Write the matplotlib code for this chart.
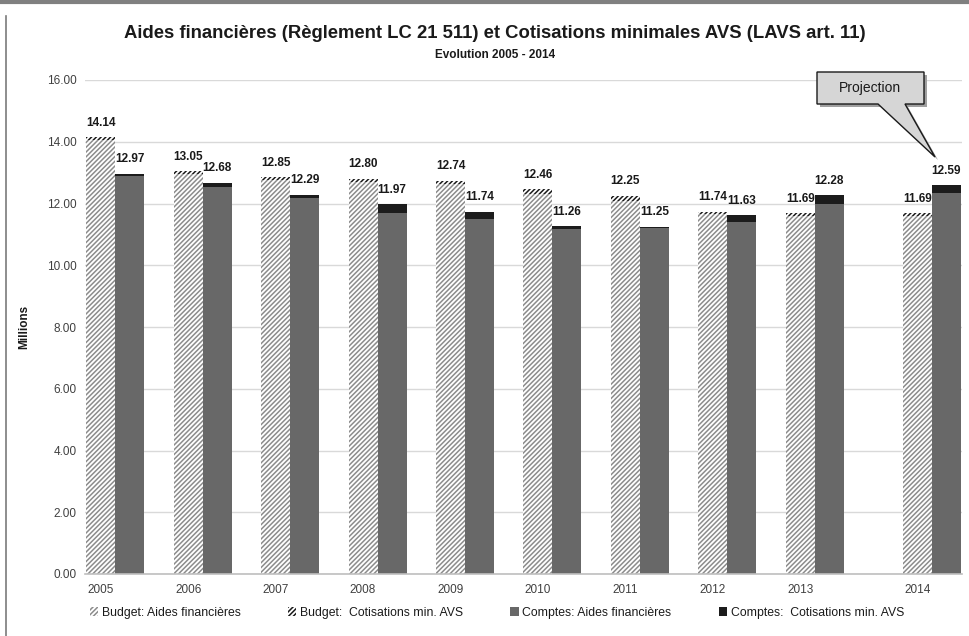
import numpy as np
import matplotlib
matplotlib.use("Agg")
import matplotlib.pyplot as plt
from matplotlib.patches import Polygon, Patch
from matplotlib.lines import Line2D

# ---- data ----
years = ["2005", "2006", "2007", "2008", "2009", "2010", "2011", "2012", "2013", "2014"]
budget_total = [14.14, 13.05, 12.85, 12.80, 12.74, 12.46, 12.25, 11.74, 11.69, 11.69]
budget_cotis = [0.07, 0.08, 0.10, 0.10, 0.12, 0.14, 0.16, 0.08, 0.08, 0.08]
comptes_total = [12.97, 12.68, 12.29, 11.97, 11.74, 11.26, 11.25, 11.63, 12.28, 12.59]
comptes_cotis = [0.09, 0.15, 0.10, 0.29, 0.23, 0.10, 0.03, 0.22, 0.31, 0.24]
yticks = [0, 2, 4, 6, 8, 10, 12, 14, 16]
legend_labels = ["Budget: Aides financières", "Budget:  Cotisations min. AVS",
                 "Comptes: Aides financières", "Comptes:  Cotisations min. AVS"]
title = "Aides financières (Règlement LC 21 511) et Cotisations minimales AVS (LAVS art. 11)"
subtitle = "Evolution 2005 - 2014"
callout_text = "Projection"

budget_total = np.array(budget_total)
budget_cotis = np.array(budget_cotis)
comptes_total = np.array(comptes_total)
comptes_cotis = np.array(comptes_cotis)
budget_aides = budget_total - budget_cotis
comptes_aides = comptes_total - comptes_cotis

plt.rcParams['font.family'] = ['Liberation Sans', 'DejaVu Sans']
plt.rcParams['hatch.linewidth'] = 1.1

W, H = 969, 636
fig = plt.figure(figsize=(W / 100, H / 100), dpi=100)
ax = fig.add_axes([85 / W, 1 - 574 / H, (962 - 85) / W, (574 - 80) / H])

x = np.arange(len(years), dtype=float)
x[-1] += 0.34  # projection year set apart
bw = 0.332

ax.bar(x, budget_aides, bw, align='center', color='white', edgecolor='#8c8c8c',
       hatch='///////', linewidth=0, zorder=2)
ax.bar(x, budget_cotis, bw, bottom=budget_aides, color='white', edgecolor='#1a1a1a',
       hatch='///////', linewidth=0, zorder=2)
ax.bar(x + bw, comptes_aides, bw, color='#686868', linewidth=0, zorder=2)
ax.bar(x + bw, comptes_cotis, bw, bottom=comptes_aides, color='#1c1c1c', linewidth=0, zorder=2)

for xi, v in zip(x, budget_total):
    ax.annotate(f"{v:.2f}", (xi, v), xytext=(0, 6), textcoords='offset points',
                ha='center', va='bottom', fontsize=8.5, fontweight='bold', color='#1a1a1a', zorder=5)
for xi, v in zip(x + bw, comptes_total):
    ax.annotate(f"{v:.2f}", (xi, v), xytext=(0, 6), textcoords='offset points',
                ha='center', va='bottom', fontsize=8.5, fontweight='bold', color='#1a1a1a', zorder=5)

ax.set_xlim(-0.18, x[-1] + 0.51)
ax.set_ylim(0, 16)
ax.set_yticks(yticks)
ax.set_yticklabels([f"{t:.2f}" for t in yticks])
ax.set_xticks(x)
ax.set_xticklabels(years)
ax.tick_params(axis='both', length=0, labelsize=8.5, colors='#404040')
ax.tick_params(axis='y', pad=6)
ax.tick_params(axis='x', pad=7)
ax.yaxis.grid(True, color='#d9d9d9', linewidth=1, zorder=0)
ax.set_axisbelow(True)
for s in ['top', 'right', 'left']:
    ax.spines[s].set_visible(False)
ax.spines['bottom'].set_color('#bfbfbf')
ax.spines['bottom'].set_linewidth(1.2)
ax.set_ylabel("Millions", fontsize=8.5, fontweight='bold', labelpad=12, color='#1a1a1a')

fig.text(495 / W, 1 - 33 / H, title, ha='center', va='center', fontsize=13.3,
         fontweight='bold', color='#1a1a1a')
fig.text(495 / W, 1 - 55 / H, subtitle, ha='center', va='center', fontsize=8.5,
         fontweight='bold', color='#1a1a1a')

# legend
handles = [Patch(facecolor='white', edgecolor='#8c8c8c', hatch='///////', linewidth=0),
           Patch(facecolor='white', edgecolor='#1a1a1a', hatch='///////', linewidth=0),
           Patch(facecolor='#686868', linewidth=0),
           Patch(facecolor='#1c1c1c', linewidth=0)]
fig.legend(handles, legend_labels, loc='center', bbox_to_anchor=(497 / W, 1 - 613 / H),
           ncol=4, frameon=False, fontsize=8.8, handlelength=0.7, handleheight=0.7,
           handletextpad=0.3, columnspacing=3.85, labelcolor='#1a1a1a')

# callout "Projection"
def px(a, b):
    return (a / W, 1 - b / H)

shape = [(817, 72), (924, 72), (924, 104), (905, 104), (935, 157), (878, 104), (817, 104)]
shadow = Polygon([px(a + 3, b + 3) for a, b in shape], closed=True, transform=fig.transFigure,
                 facecolor='#a0a0a0', edgecolor='none', zorder=9)
fig.add_artist(shadow)
call = Polygon([px(a, b) for a, b in shape], closed=True, transform=fig.transFigure,
               facecolor='#d6d6d6', edgecolor='#1a1a1a', linewidth=1, zorder=10)
fig.add_artist(call)
fig.text(870 / W, 1 - 88 / H, callout_text, ha='center', va='center', fontsize=10,
         color='#1a1a1a', zorder=11)

# chart frame
fig.add_artist(Line2D([0, 1], [1 - 1.5 / H, 1 - 1.5 / H], transform=fig.transFigure,
                      color='#808080', linewidth=3))
fig.add_artist(Line2D([6 / W, 6 / W], [0, 1 - 16 / H], transform=fig.transFigure,
                      color='#7a7a7a', linewidth=1.2))

fig.savefig("out.png", dpi=100)
